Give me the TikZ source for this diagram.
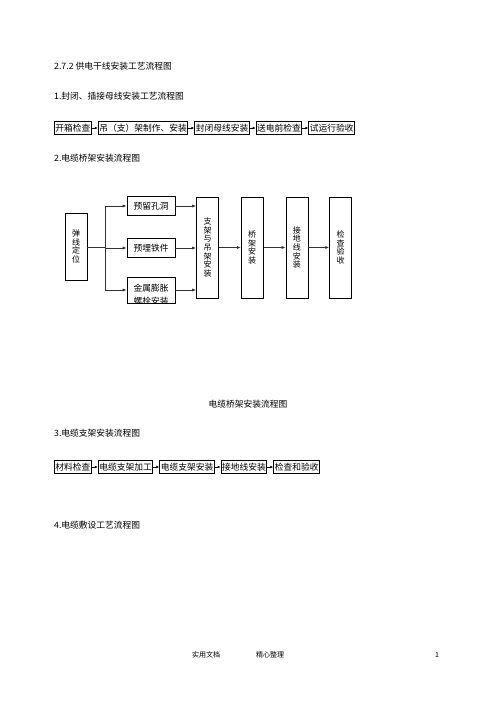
\documentclass[tikz,border=0pt]{standalone}
\usepackage{fontspec}
\setmainfont{Noto Sans CJK SC}
\usetikzlibrary{arrows.meta,positioning}
\begin{document}
\begin{tikzpicture}[x=1pt,y=-1pt]

    \tikzset{
      heading/.style={
        anchor=west,
        inner sep=0pt,
        font=\fontsize{8.75}{10}\selectfont,
      },
      flowbox/.style={
        draw,
        line width=0.9pt,
        inner sep=1pt,
        minimum height=13pt,
        font=\fontsize{8.75}{10}\selectfont,
      },
      smallbox/.style={
        draw,
        line width=0.7pt,
        inner sep=0pt,
        minimum width=48pt,
        minimum height=19pt,
        font=\fontsize{8.75}{10}\selectfont,
      },
      tallbox/.style={
        draw,
        line width=0.7pt,
        inner sep=0pt,
        minimum width=22pt,
        minimum height=101pt,
        align=center,
        font=\fontsize{8}{8.7}\selectfont,
      },
      flow/.style={-{Latex[length=3pt,width=2.6pt]}, line width=0.6pt},
      link/.style={line width=0.8pt, draw=black!80},
      tip/.style={-{Latex[length=4pt,width=3.2pt]}},
    }
    \useasboundingbox (0,0) rectangle (496,702);

	\node[heading] (title) at (54,66) {2.7.2 供电干线安装工艺流程图};
	\node[heading] (head1) at (54,96) {1.封闭、插接母线安装工艺流程图};

	\node[flowbox, anchor=west] (unpack) at (54,128) {开箱检查};
	\node[flowbox, right=6pt of unpack] (hanger) {吊（支）架制作、安装};
	\node[flowbox, right=6pt of hanger] (busway) {封闭母线安装};
	\node[flowbox, right=6pt of busway] (precheck) {送电前检查};
	\node[flowbox, right=6pt of precheck] (trial) {试运行验收};
	\draw[flow] (unpack) -- (hanger);
	\draw[flow] (hanger) -- (busway);
	\draw[flow] (busway) -- (precheck);
	\draw[flow] (precheck) -- (trial);

	\node[heading] (head2) at (54,158) {2.电缆桥架安装流程图};

	\node[tallbox, minimum height=67pt] (mark) at (76,246.5) {弹\\线\\定\\位};
	\coordinate (fork) at (105,247);
	\node[smallbox] (hole) at (151,206) {预留孔洞};
	\node[smallbox] (iron) at (151,248) {预埋铁件};
	\node[smallbox, minimum height=26pt] (bolt) at (151,290) {};
	\begin{scope}
	  \clip (bolt.south west) rectangle (bolt.north east);
	  \node[font=\fontsize{8.75}{13}\selectfont, align=center, inner sep=0pt] (boltlabel) at (151,295) {金属膨胀\\螺栓安装};
	\end{scope}
	\node[tallbox] (support) at (207.5,247.5) {支\\架\\与\\吊\\架\\安\\装};
	\node[tallbox, right=22pt of support] (tray) {桥\\架\\安\\装};
	\node[tallbox, right=22pt of tray] (ground) {接\\地\\线\\安\\装};
	\node[tallbox, right=21pt of ground] (accept) {检\\查\\验\\收};

	\draw[link] (mark.east |- fork) -- (fork);
	\draw[link] (fork |- hole) -- (fork |- bolt);
	\draw[link, tip] (fork |- hole) -- (hole.west);
	\draw[link, tip] (fork |- iron) -- (iron.west);
	\draw[link, tip] (fork |- bolt) -- (bolt.west);
	\draw[link, tip] (hole.east) -- (hole.east -| support.west);
	\draw[link, tip] (iron.east) -- (iron.east -| support.west);
	\draw[link, tip] (bolt.east) -- (bolt.east -| support.west);
	\draw[link, tip] (support) -- (tray);
	\draw[link, tip] (tray) -- (ground);
	\draw[link, tip] (ground) -- (accept);

	\node[font=\fontsize{8.75}{10}\selectfont] (caption) at (248,404) {电缆桥架安装流程图};

	\node[heading] (head3) at (54,433) {3.电缆支架安装流程图};

	\node[flowbox, anchor=west] (material) at (54,467) {材料检查};
	\node[flowbox, right=6pt of material] (machining) {电缆支架加工};
	\node[flowbox, right=6pt of machining] (mounting) {电缆支架安装};
	\node[flowbox, right=6pt of mounting] (earthing) {接地线安装};
	\node[flowbox, right=6pt of earthing] (final) {检查和验收};
	\draw[flow] (material) -- (machining);
	\draw[flow] (machining) -- (mounting);
	\draw[flow] (mounting) -- (earthing);
	\draw[flow] (earthing) -- (final);

	\node[heading] (head4) at (54,525) {4.电缆敷设工艺流程图};

	\node[font=\fontsize{7}{8}\selectfont] (footleft) at (206,655) {实用文档};
	\node[font=\fontsize{7}{8}\selectfont] (footmid) at (270,655) {精心整理};
	\node[font=\fontsize{7}{8}\selectfont] (page) at (437,655) {1};

\end{tikzpicture}
\end{document}
